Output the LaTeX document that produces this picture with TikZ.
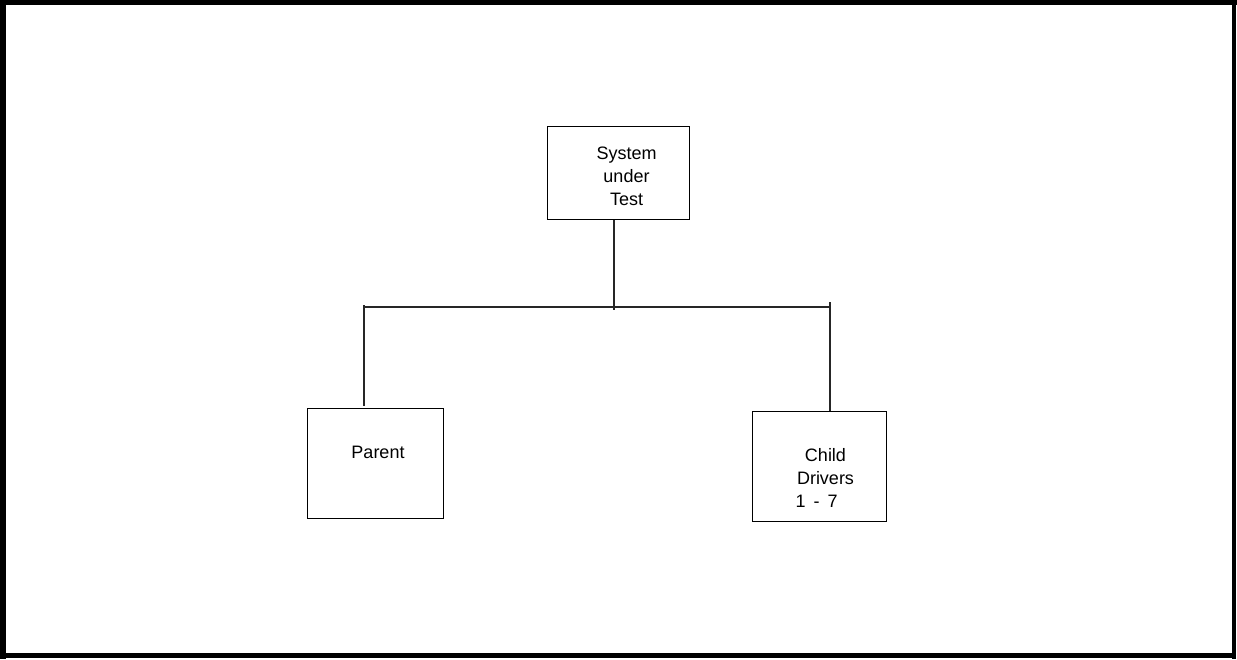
\documentclass[tikz,border=0pt]{standalone}
\usepackage{fontspec}
\setmainfont{Liberation Sans}
\begin{document}
\begin{tikzpicture}[x=1pt,y=-1pt,
  box/.style={draw=black,line width=1pt,inner sep=0pt},
  lbl/.style={align=center,inner sep=0pt,font=\fontsize{18}{23}\selectfont},
  wire/.style={draw=black!85,line width=1.8pt},
  frame/.style={fill=black,draw=none}]
\useasboundingbox (0,0) rectangle (1237,659);
% outer frame
\fill[frame] (0,0) rectangle (1237,5);
\fill[frame] (0,0) rectangle (6,659);
\fill[frame] (1232,0) rectangle (1236,659);
\fill[frame] (0,653) rectangle (1236,658);
% boxes
\node[box,minimum width=142pt,minimum height=93pt] (sut) at (618,172.5) {};
\node[box,minimum width=136pt,minimum height=110pt] (parent) at (375,463) {};
\node[box,minimum width=134pt,minimum height=110pt] (child) at (819,466) {};
% labels
\node[lbl] (sutlbl) at (626.5,176) {System\\under\\Test};
\node[lbl] (parentlbl) at (378,452) {Parent};
\node[lbl] (childlbl) at (825.5,478) {Child\\Drivers\\1 \,-\, 7\phantom{xx}};
% bus coordinates
\coordinate (busC) at (614,307);
\coordinate (busL) at (364,307);
\coordinate (busR) at (830,307);
% connectors
\draw[wire] (sut.south -| busC) -- ([yshift=-3pt]busC);
\draw[wire] (busL) -- (busR);
\draw[wire] ([yshift=2pt]busL) -- ([yshift=2pt]parent.north -| busL);
\draw[wire] ([yshift=5pt]busR) -- (child.north -| busR);
\end{tikzpicture}
\end{document}
